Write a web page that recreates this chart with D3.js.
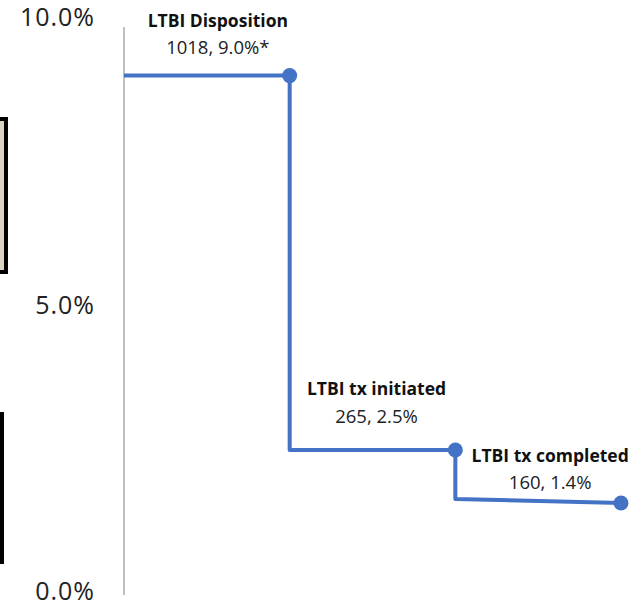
<!DOCTYPE html>
<html>
<head>
<meta charset="utf-8">
<script src="https://cdn.jsdelivr.net/npm/d3@7"></script>
<style>
	body { margin: 0; background: #fff; }
	svg { display: block; }
</style>
</head>
<body>
<script>
// step path of the cascade (x = stage index, y = percent)
var stepX = [0, 1, 1, 2, 2, 3];
var stepY = [9.0, 9.0, 2.5, 2.5, 1.65, 1.58];

// stages with markers and their labels
var stages = ["LTBI Disposition", "LTBI tx initiated", "LTBI tx completed"];
var stageX = [1, 2, 3];
var stageY = [9.0, 2.5, 1.58];
var stageText = ["1018, 9.0%*", "265, 2.5%", "160, 1.4%"];

var yTicks = [0, 5, 10];

var width = 638;
var height = 607;

var svg = d3.select("body").append("svg")
	.attr("width", width)
	.attr("height", height);

var x = d3.scaleLinear().domain([0, 3]).range([124, 621]);
var y = d3.scaleLinear().domain([0, 10]).range([594, 18]);

/* bits of neighbouring shapes cut off at the left edge */
svg.append("rect")
	.attr("x", -6).attr("y", 119)
	.attr("width", 12).attr("height", 153)
	.attr("fill", "#d9d4c1")
	.attr("stroke", "#000")
	.attr("stroke-width", 4);
svg.append("rect")
	.attr("x", 0).attr("y", 412)
	.attr("width", 4).attr("height", 152)
	.attr("fill", "#000");

/* y axis */
svg.append("line")
	.attr("x1", x(0)).attr("x2", x(0))
	.attr("y1", 27).attr("y2", 595)
	.attr("stroke", "#bfbfbf")
	.attr("stroke-width", 2);

svg.append("g").selectAll("text")
	.data(yTicks)
	.enter().append("text")
	.attr("x", 95)
	.attr("y", function(d) { return y(d) - (d === 0 ? 3 : 1); })
	.attr("dy", "0.35em")
	.attr("text-anchor", "end")
	.attr("font-family", "Open Sans, sans-serif")
	.attr("font-size", 25)
	.attr("letter-spacing", 1)
	.attr("fill", "#222")
	.text(function(d) { return d3.format(".1f")(d) + "%"; });

/* step line */
var pts = stepX.map(function(d, i) { return [x(d), y(stepY[i])]; });
svg.append("path")
	.attr("d", d3.line()(pts))
	.attr("fill", "none")
	.attr("stroke", "#4472c4")
	.attr("stroke-width", 4)
	.attr("stroke-linejoin", "round");

svg.append("g").selectAll("circle")
	.data(stageX)
	.enter().append("circle")
	.attr("cx", function(d) { return x(d); })
	.attr("cy", function(d, i) { return y(stageY[i]); })
	.attr("r", 7.5)
	.attr("fill", "#4472c4");

/* labels sit above the segment leading into each marker */
var lab = svg.append("g")
	.attr("font-family", "Open Sans, sans-serif")
	.attr("text-anchor", "middle")
	.attr("fill", "#111")
	.selectAll("g")
	.data(stages)
	.enter().append("g")
	.attr("transform", function(d, i) {
		var cx = (x(stageX[i] - 1) + x(stageX[i])) / 2 + [11, 4, 12][i];
		var cy = y(stageY[i]) - [49, 55, 41][i];
		return "translate(" + cx + "," + cy + ")";
	});

lab.append("text")
	.attr("font-weight", "bold")
	.attr("font-size", 17.5)
	.text(function(d) { return d; });

lab.append("text")
	.attr("y", 27.5)
	.attr("font-size", 18.5)
	.attr("fill", "#222")
	.text(function(d, i) { return stageText[i]; });
</script>
</body>
</html>
